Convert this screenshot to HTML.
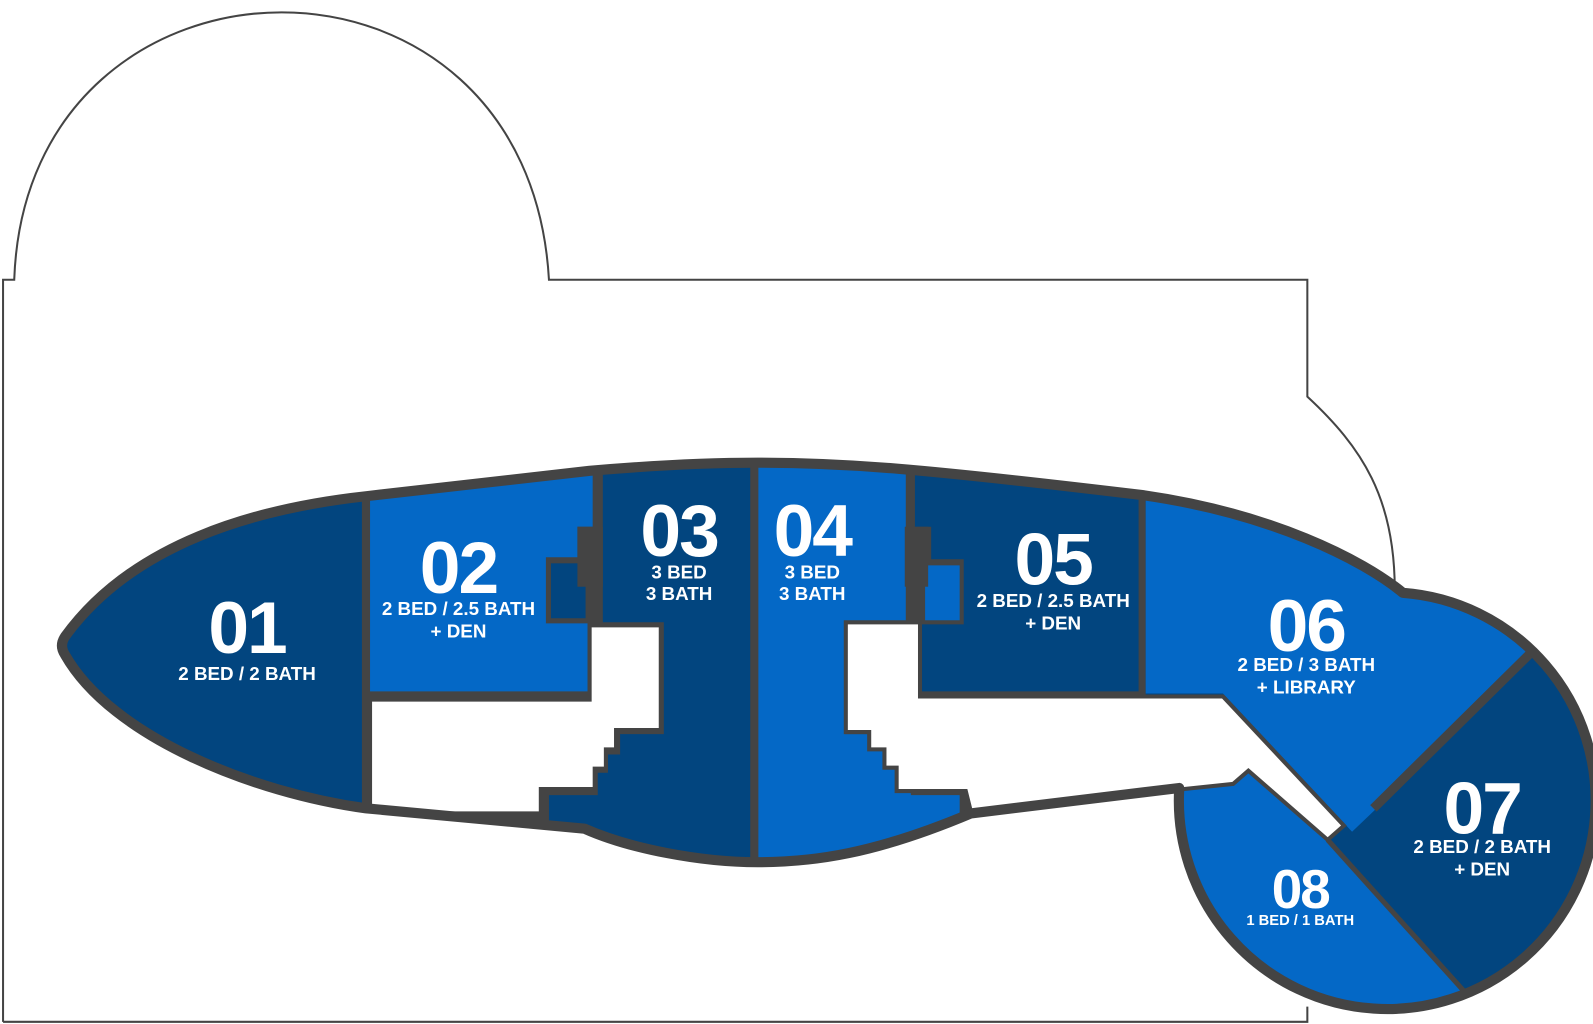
<!DOCTYPE html>
<html><head><meta charset="utf-8"><style>
html,body{margin:0;padding:0;background:#fff;}
svg{display:block;}
text{font-family:"Liberation Sans",sans-serif;font-weight:bold;fill:#fff;text-anchor:middle;}
.n{font-size:72px;letter-spacing:-2px;}
.s{font-size:18.5px;}
</style></head><body>
<svg width="1593" height="1024" viewBox="0 0 1567 1007" xmlns="http://www.w3.org/2000/svg">
<defs>
<clipPath id="b"><path id="bp" d="M64,626 C130,535 250,500 360,488 L580,463 C650,457 700,455 745,455 C830,455 900,460 1125,487 C1250,505 1340,550 1380,583 A205 205 0 1 1 1160,775 L955,800 C860,840 800,848 745,848 C690,848 620,835 575,815 L360,795 C250,780 110,725 64,644 Q58,635 64,626 Z"/></clipPath>
</defs>
<path d="M3,1005 L3,275 L14,275 C20,100 150,12 277,12 C405,12 530,100 540,275 L1286,275 L1286,390 C1340,440 1372,490 1372,580" fill="none" stroke="#444" stroke-width="2"/>
<path d="M1286,990 L1286,1005 L3,1005" fill="none" stroke="#444" stroke-width="2"/>
<use href="#bp" fill="#444"/>
<g clip-path="url(#b)">
<polygon points="0,400 356,400 356,900 0,900" fill="#02457f"/>
<polygon points="364,460 583,460 583,518 568,518 568,548 537,548 537,613 578,613 578,680 364,680" fill="#0468c6"/>
<rect x="542" y="554" width="34" height="54" fill="#02457f"/>
<polygon points="593,455 738,455 738,860 540,860 540,782 588,782 588,760 598,760 598,742 610,742 610,722 653,722 653,612 593,612" fill="#02457f"/>
<polygon points="364,688 580,688 580,615 650,615 650,718 606,718 606,737 596,737 596,756 585,756 585,776 532,776 532,800 364,800" fill="#fff" stroke="#444" stroke-width="4"/>
<polygon points="891,455 746,455 746,860 944,860 944,782 896,782 896,760 886,760 886,742 874,742 874,722 831,722 831,612 891,612" fill="#0468c6"/>
<polygon points="900,455 1120,455 1120,680 904,680 904,614 948,614 948,550 916,550 916,518 900,518" fill="#02457f"/>
<rect x="910" y="556" width="34" height="54" fill="#0468c6"/>
<rect x="1127" y="455" width="450" height="560" fill="#02457f"/>
<polygon points="1127,460 1450,460 1525,625 1351,798 1330,818 1203,682 1127,682" fill="#0468c6"/>
<polygon points="1140,760 1213,770 1228,756 1306,826 1452,988 1452,1012 1140,1012" fill="#0468c6"/>
<polygon points="832,612 905,612 905,685 1203,685 1322,812 1306,826 1228,758 1213,771 1165,776 955,798 950,778 882,778 882,755 870,755 870,737 855,737 855,720 832,720" fill="#fff" stroke="#444" stroke-width="4"/>
<line x1="1306" y1="826" x2="1452" y2="988" stroke="#444" stroke-width="5"/>
<line x1="1515" y1="633" x2="1351" y2="795" stroke="#444" stroke-width="9"/>
</g>
<rect x="568" y="518" width="25" height="59" fill="#444"/>
<rect x="890" y="518" width="23" height="59" fill="#444"/>
<use href="#bp" fill="none" stroke="#444" stroke-width="10" stroke-linejoin="round"/>
<text class="n" x="243" y="642">01</text>
<text class="s" x="243" y="669">2 BED / 2 BATH</text>
<text class="n" x="451" y="583">02</text>
<text class="s" x="451" y="605">2 BED / 2.5 BATH</text>
<text class="s" x="451" y="627">+ DEN</text>
<text class="n" x="668" y="547">03</text>
<text class="s" x="668" y="569">3 BED</text>
<text class="s" x="668" y="590">3 BATH</text>
<text class="n" x="799" y="547">04</text>
<text class="s" x="799" y="569">3 BED</text>
<text class="s" x="799" y="590">3 BATH</text>
<text class="n" x="1036" y="575">05</text>
<text class="s" x="1036" y="597">2 BED / 2.5 BATH</text>
<text class="s" x="1036" y="619">+ DEN</text>
<text class="n" x="1285" y="640">06</text>
<text class="s" x="1285" y="660">2 BED / 3 BATH</text>
<text class="s" x="1285" y="682">+ LIBRARY</text>
<text class="n" x="1458" y="820">07</text>
<text class="s" x="1458" y="839">2 BED / 2 BATH</text>
<text class="s" x="1458" y="861">+ DEN</text>
<text class="n" x="1279" y="893" style="font-size:54px">08</text>
<text class="s" x="1279" y="910" style="font-size:14.5px">1 BED / 1 BATH</text>
</svg>
</body></html>
